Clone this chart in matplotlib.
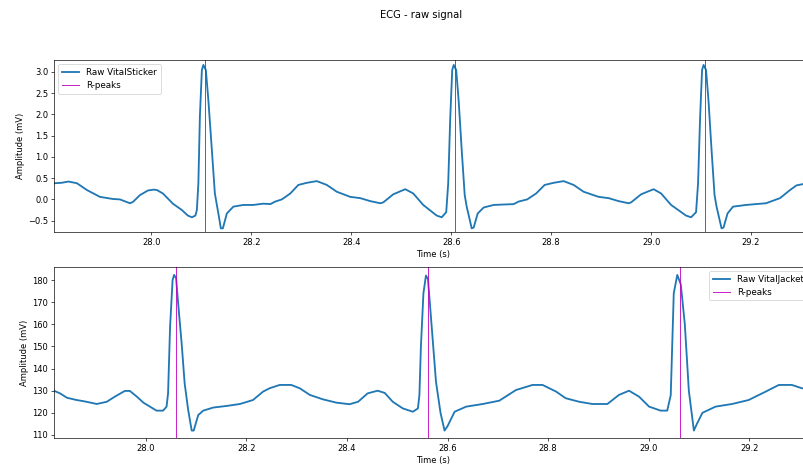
import numpy as np
import matplotlib
matplotlib.use('Agg')
import matplotlib.pyplot as plt

# VitalSticker raw ECG (mV)
stickerTime = [27.806, 27.820, 27.834, 27.851, 27.871, 27.897, 27.923, 27.937, 27.957, 27.963,
               27.977, 27.993, 28.005, 28.011, 28.023, 28.043, 28.061, 28.073, 28.081, 28.088,
               28.091, 28.094, 28.097, 28.101, 28.104, 28.109, 28.114, 28.121, 28.127, 28.134,
               28.139, 28.143, 28.151, 28.164, 28.184, 28.204, 28.224, 28.238, 28.248, 28.261,
               28.278, 28.294, 28.311, 28.331, 28.351, 28.371, 28.398, 28.418, 28.438, 28.458,
               28.464, 28.484, 28.508, 28.524, 28.544, 28.571, 28.581, 28.590, 28.594, 28.598,
               28.602, 28.605, 28.610, 28.615, 28.621, 28.627, 28.631, 28.641, 28.645, 28.653,
               28.665, 28.685, 28.705, 28.725, 28.735, 28.752, 28.770, 28.787, 28.805, 28.825,
               28.845, 28.865, 28.895, 28.915, 28.935, 28.955, 28.960, 28.980, 29.005, 29.020,
               29.040, 29.070, 29.080, 29.090, 29.094, 29.098, 29.102, 29.105, 29.110, 29.115,
               29.121, 29.127, 29.131, 29.141, 29.145, 29.153, 29.164, 29.190, 29.230, 29.258,
               29.278, 29.291, 29.304, 29.322]
stickerVal = [0.38, 0.39, 0.42, 0.38, 0.22, 0.06, 0.01, 0.00, -0.09, -0.06,
              0.10, 0.21, 0.23, 0.22, 0.14, -0.10, -0.25, -0.38, -0.42, -0.38,
              -0.25, 0.38, 1.94, 3.04, 3.16, 3.04, 2.33, 1.16, 0.14, -0.33,
              -0.68, -0.68, -0.33, -0.17, -0.13, -0.13, -0.10, -0.11, -0.05, 0.00,
              0.14, 0.34, 0.39, 0.43, 0.34, 0.18, 0.06, 0.03, -0.04, -0.09,
              -0.07, 0.12, 0.24, 0.14, -0.13, -0.38, -0.42, -0.30, 0.38, 1.90,
              3.04, 3.16, 3.04, 2.30, 1.16, 0.10, -0.17, -0.68, -0.66, -0.33,
              -0.19, -0.13, -0.12, -0.11, -0.05, 0.00, 0.14, 0.34, 0.39, 0.43,
              0.34, 0.18, 0.06, 0.03, -0.04, -0.09, -0.07, 0.12, 0.24, 0.14,
              -0.13, -0.38, -0.42, -0.30, 0.38, 1.90, 3.04, 3.16, 3.04, 2.30,
              1.16, 0.10, -0.17, -0.68, -0.66, -0.33, -0.17, -0.13, -0.09, 0.03,
              0.22, 0.33, 0.36, 0.38]
stickerPeaks = [28.107, 28.607, 29.107]

# VitalJacket raw ECG
jacketTime = [27.818, 27.829, 27.843, 27.862, 27.882, 27.902, 27.922, 27.938, 27.958, 27.968,
              27.982, 27.995, 28.008, 28.021, 28.034, 28.041, 28.044, 28.048, 28.053, 28.056,
              28.060, 28.064, 28.071, 28.077, 28.084, 28.091, 28.095, 28.104, 28.114, 28.134,
              28.160, 28.187, 28.213, 28.233, 28.246, 28.266, 28.289, 28.306, 28.326, 28.352,
              28.379, 28.405, 28.422, 28.441, 28.461, 28.475, 28.491, 28.511, 28.531, 28.541,
              28.544, 28.547, 28.552, 28.557, 28.561, 28.566, 28.577, 28.586, 28.594, 28.600,
              28.614, 28.637, 28.670, 28.703, 28.736, 28.769, 28.789, 28.816, 28.835, 28.862,
              28.888, 28.918, 28.941, 28.961, 28.981, 29.001, 29.024, 29.037, 29.044, 29.050,
              29.057, 29.064, 29.072, 29.080, 29.090, 29.096, 29.107, 29.133, 29.166, 29.199,
              29.233, 29.259, 29.285, 29.305, 29.322]
jacketVal = [129.9, 128.8, 126.8, 125.8, 125.0, 124.0, 125.0, 127.3, 129.9, 129.9,
             127.3, 124.6, 122.8, 121.0, 121.0, 122.8, 128.8, 158.9, 180.0, 182.3,
             180.8, 169.5, 151.4, 133.3, 121.3, 112.0, 112.0, 119.0, 121.0, 122.4,
             123.1, 124.0, 125.8, 129.6, 131.1, 132.6, 132.6, 131.1, 128.1, 126.1,
             124.6, 123.9, 125.0, 128.8, 130.0, 129.0, 125.0, 122.0, 120.5, 122.0,
             128.0, 150.0, 174.0, 182.0, 180.5, 166.0, 134.0, 120.0, 112.0, 114.0,
             120.5, 122.8, 124.0, 125.5, 130.3, 132.6, 132.6, 129.6, 126.6, 125.0,
             124.0, 124.0, 128.1, 130.0, 127.3, 122.8, 121.0, 121.0, 128.0, 174.0,
             182.3, 178.0, 160.0, 130.0, 112.0, 115.0, 120.0, 122.8, 124.0, 125.8,
             129.6, 132.6, 132.6, 131.1, 131.0]
jacketPeaks = [28.059, 28.561, 29.062]

fig = plt.figure(figsize=(803 / 60, 465 / 60), dpi=60)
ax1 = fig.add_axes([0.0672, 0.5004, 0.944, 0.3705])
ax2 = fig.add_axes([0.0672, 0.0574, 0.944, 0.369])

ax1.plot(stickerTime, stickerVal, color='tab:blue', lw=2.2, label='Raw VitalSticker')
for i, p in enumerate(stickerPeaks):
    ax1.axvline(p, color='m', lw=1.2, alpha=0.85, label='R-peaks' if i == 0 else None)
ax1.set_xlim(27.805, 29.322)
ax1.set_ylim(-0.773, 3.275)
ax1.set_xlabel('Time (s)')
ax1.set_ylabel('Amplitude (mV)')
ax1.legend(loc='upper left', fontsize=10.5)

ax2.plot(jacketTime, jacketVal, color='tab:blue', lw=2.2, label='Raw VitalJacket')
for i, p in enumerate(jacketPeaks):
    ax2.axvline(p, color='m', lw=1.2, alpha=0.85, label='R-peaks' if i == 0 else None)
ax2.set_xlim(27.817, 29.325)
ax2.set_ylim(108.5, 186.0)
ax2.set_xlabel('Time (s)')
ax2.set_ylabel('Amplitude (mV)')
ax2.legend(loc='upper right', fontsize=10.5)

fig.suptitle('ECG - raw signal', x=0.524, y=0.978)

plt.savefig('out.png', dpi=60)
